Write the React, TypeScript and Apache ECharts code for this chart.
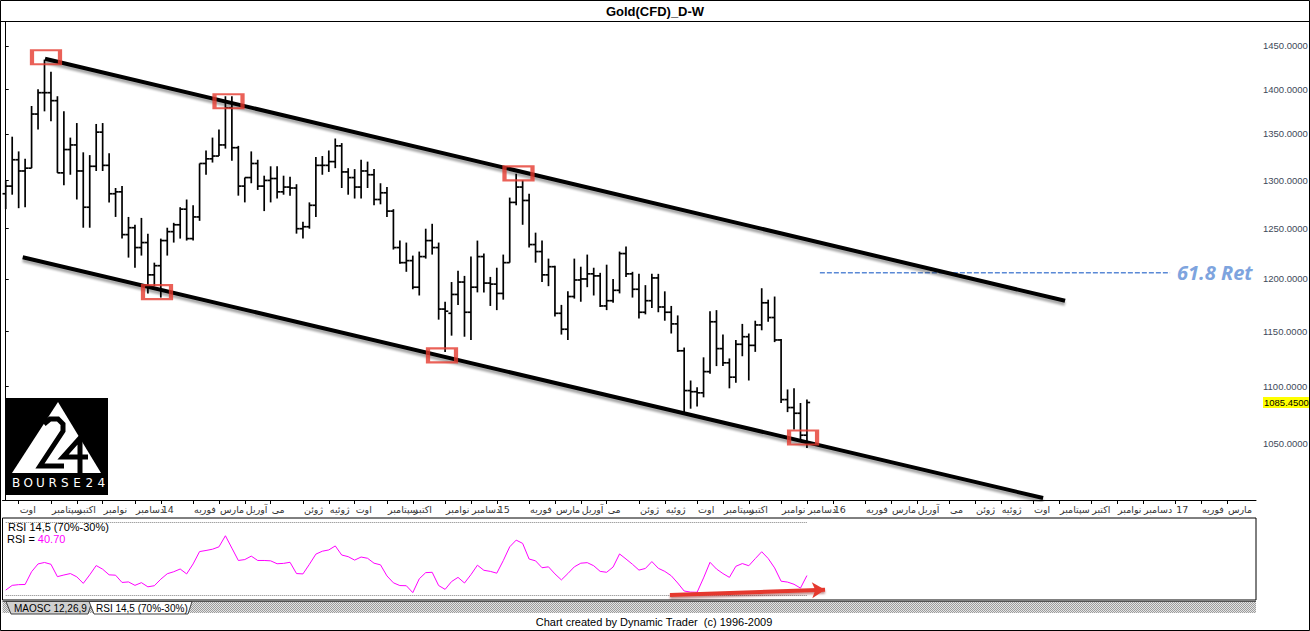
import React, { useEffect, useRef } from "react";
import * as echarts from "echarts";

// ---------- categories (weekly bars, dated by their Friday) ----------
const DAY_MS = 86400000;
const FIRST_WEEK_UTC = Date.UTC(2013, 6, 19);
const WEEK_COUNT = 194;
const weekCategories: string[] = [];
for (let k = 0; k < WEEK_COUNT; k++) {
  weekCategories.push(new Date(FIRST_WEEK_UTC + k * 7 * DAY_MS).toISOString().slice(0, 10));
}
// month names (index 0 = January, replaced by the year)
const monthLabels = ["", "فوریه", "مارس", "آوریل", "می", "ژوئن", "ژوئیه", "اوت", "سپتامبر", "اکتبر", "نوامبر", "دسامبر"];

// ---------- weekly OHLC ----------
const opens = [
  1286, 1294, 1322, 1310, 1313, 1372, 1396, 1396, 1387, 1308, 1333, 1338, 1310, 1272, 1315, 1352, 1316, 1286, 1288, 1244,
  1251, 1231, 1236, 1204, 1213, 1238, 1247, 1254, 1270, 1240, 1262, 1318, 1323, 1326, 1338, 1379, 1335, 1294, 1303, 1318,
  1294, 1300, 1302, 1288, 1293, 1292, 1250, 1252, 1274, 1316, 1316, 1320, 1337, 1309, 1303, 1293, 1310, 1306, 1280, 1287,
  1268, 1231, 1216, 1218, 1192, 1222, 1238, 1231, 1171, 1167, 1185, 1197, 1168, 1192, 1222, 1196, 1195, 1186, 1216, 1277,
  1293, 1279, 1234, 1227, 1204, 1212, 1167, 1152, 1183, 1199, 1200, 1205, 1203, 1174, 1179, 1189, 1225, 1205, 1190, 1168,
  1179, 1201, 1173, 1168, 1157, 1132, 1096, 1095, 1094, 1113, 1159, 1134, 1121, 1108, 1138, 1145, 1137, 1156, 1177, 1163,
  1142, 1088, 1081, 1076, 1057,
];
const highs = [
  1300, 1347, 1331, 1323, 1381, 1400, 1434, 1420, 1392, 1375, 1346, 1362, 1330, 1327, 1361, 1362, 1329, 1292, 1294, 1262,
  1254, 1261, 1245, 1216, 1240, 1251, 1256, 1272, 1280, 1274, 1318, 1332, 1346, 1355, 1392, 1392, 1337, 1303, 1331, 1322,
  1305, 1315, 1315, 1305, 1304, 1296, 1257, 1277, 1325, 1326, 1332, 1345, 1340, 1313, 1312, 1322, 1320, 1312, 1297, 1293,
  1270, 1238, 1236, 1223, 1227, 1250, 1255, 1236, 1178, 1197, 1208, 1203, 1222, 1238, 1225, 1202, 1211, 1224, 1282, 1307,
  1300, 1286, 1246, 1238, 1220, 1213, 1175, 1188, 1220, 1212, 1224, 1211, 1206, 1214, 1200, 1227, 1232, 1207, 1205, 1194,
  1205, 1205, 1188, 1174, 1165, 1135, 1105, 1099, 1126, 1169, 1170, 1147, 1125, 1142, 1157, 1148, 1160, 1191, 1180, 1183,
  1143, 1097, 1098, 1085, 1088,
];
const lows = [
  1270, 1285, 1271, 1272, 1313, 1355, 1375, 1364, 1308, 1295, 1306, 1280, 1251, 1251, 1310, 1310, 1277, 1262, 1240, 1221,
  1211, 1223, 1186, 1193, 1182, 1223, 1236, 1240, 1238, 1238, 1258, 1306, 1319, 1326, 1334, 1321, 1284, 1277, 1297, 1290,
  1268, 1277, 1281, 1285, 1284, 1245, 1240, 1250, 1262, 1306, 1309, 1313, 1292, 1285, 1281, 1281, 1292, 1274, 1275, 1262,
  1229, 1215, 1207, 1190, 1184, 1220, 1224, 1161, 1131, 1146, 1175, 1145, 1142, 1187, 1187, 1174, 1170, 1180, 1216, 1274,
  1254, 1231, 1216, 1197, 1193, 1164, 1147, 1142, 1181, 1178, 1192, 1184, 1173, 1170, 1177, 1186, 1202, 1182, 1162, 1166,
  1172, 1168, 1160, 1148, 1131, 1077, 1080, 1082, 1090, 1111, 1118, 1118, 1098, 1103, 1127, 1105, 1131, 1151, 1159, 1140,
  1085, 1077, 1062, 1052, 1046,
];
const closes = [
  1294, 1322, 1310, 1313, 1372, 1396, 1396, 1387, 1308, 1333, 1338, 1310, 1272, 1315, 1352, 1316, 1286, 1288, 1244, 1251,
  1231, 1236, 1204, 1213, 1238, 1247, 1254, 1270, 1240, 1262, 1318, 1323, 1326, 1338, 1379, 1335, 1294, 1303, 1318, 1294,
  1300, 1302, 1288, 1293, 1292, 1250, 1252, 1274, 1316, 1316, 1320, 1337, 1309, 1303, 1293, 1310, 1306, 1280, 1287, 1268,
  1231, 1216, 1218, 1192, 1222, 1238, 1231, 1171, 1169, 1185, 1197, 1168, 1192, 1222, 1196, 1195, 1186, 1216, 1277, 1293,
  1279, 1234, 1227, 1204, 1212, 1167, 1152, 1183, 1199, 1200, 1205, 1203, 1174, 1179, 1189, 1225, 1205, 1190, 1168, 1179,
  1201, 1173, 1168, 1157, 1132, 1096, 1095, 1094, 1113, 1159, 1134, 1121, 1108, 1138, 1145, 1137, 1156, 1177, 1163, 1142,
  1088, 1081, 1076, 1057, 1085.45,
];

// ---------- RSI 14,5 ----------
const rsiValues = [
  32.7, 35.3, 35.7, 35.8, 42.8, 47.1, 47.9, 46.9, 40.1, 41.0, 41.8, 40.0, 36.4, 41.1, 46.2, 44.2, 41.1, 40.9, 36.9, 37.2,
  35.3, 36.8, 34.5, 35.1, 38.7, 41.7, 42.8, 44.3, 41.6, 47.1, 53.9, 54.5, 55.2, 56.5, 62.6, 55.8, 49.0, 49.5, 51.4, 49.0,
  49.0, 48.8, 47.2, 47.4, 48.0, 41.8, 41.6, 46.9, 52.5, 54.1, 54.8, 57.0, 52.0, 51.1, 49.2, 50.9, 50.2, 47.5, 46.6, 40.5,
  36.7, 35.2, 35.1, 31.3, 38.9, 42.3, 42.5, 35.2, 33.1, 37.4, 39.7, 36.6, 41.2, 46.4, 43.6, 43.0, 42.0, 48.9, 56.5, 60.2,
  58.4, 49.8, 48.8, 45.0, 45.5, 41.6, 38.3, 41.8, 45.5, 47.5, 47.8, 46.1, 43.0, 42.5, 45.4, 52.6, 49.8, 46.9, 43.7, 44.6,
  48.4, 44.7, 43.0, 40.6, 36.6, 32.2, 31.6, 31.5, 39.4, 48.0, 44.3, 41.8, 39.7, 45.8, 47.3, 46.1, 50.0, 53.8, 50.1, 44.9,
  37.6, 37.1, 35.9, 33.8, 40.7,
];
const rsiLevels = [70, 30];
const rsiLast = "40.70";

// ---------- price axis ----------
const priceTicks = [1050, 1100, 1150, 1200, 1250, 1300, 1350, 1400, 1450];
const lastPrice = 1085.45;

// ---------- annotations (week index, price) ----------
const upperChannel = [[6.08, 1435.1], [163.95, 1178.9]];
const lowerChannel = [[2.63, 1221.3], [160.55, 1004.4]];
const pivotBoxes = [[6.23, 1436.8], [34.48, 1386.3], [23.41, 1187.2], [67.52, 1127.8], [79.36, 1307.5], [123.4, 1055.0]];
const retFrom = 126.0;
const retTo = 180.2;
const retLevel = 1206.1;
const retText = "61.8 Ret";
const rsiArrow = [[102.8, 30.0], [126.8, 32.9]];

const monthOf = (s: string) => Number(s.slice(5, 7));
const isMonthStart = (idx: number) =>
  idx > 0 && monthOf(weekCategories[idx]) !== monthOf(weekCategories[idx - 1]);
const monthLabel = (v: string) => {
  const m = monthOf(v);
  return m === 1 ? v.slice(2, 4) : monthLabels[m - 1];
};

function hatchURL(): string {
  const c = document.createElement("canvas");
  c.width = 2;
  c.height = 2;
  const g = c.getContext("2d")!;
  g.fillStyle = "#e4e4e4";
  g.fillRect(0, 0, 2, 2);
  g.fillStyle = "#9c9c9c";
  g.fillRect(0, 0, 1, 1);
  g.fillRect(1, 1, 1, 1);
  return c.toDataURL();
}

const GL = 2.5;
const GW = 1253.5;

export default function App() {
  const ref = useRef<HTMLDivElement>(null);
  useEffect(() => {
    if (!ref.current) return;
    const chart = echarts.init(ref.current, undefined, { renderer: "svg" });
    const ohlc = opens.map((o, k) => [k, o, highs[k], lows[k], closes[k]]);
    const sans = "'Liberation Sans', Arial, sans-serif";
    const hatch = hatchURL();

    const option: any = {
      animation: false,
      backgroundColor: "#ffffff",
      grid: [
        { left: GL, top: 22, width: GW, height: 478, outerBoundsMode: "none", containLabel: false },
        { left: GL, top: 518, width: GW, height: 82, outerBoundsMode: "none", containLabel: false },
      ],
      xAxis: [
        {
          type: "category",
          gridIndex: 0,
          data: weekCategories,
          boundaryGap: true,
          axisLine: { show: true, lineStyle: { color: "#000", width: 1 } },
          axisTick: { show: true, alignWithLabel: true, interval: isMonthStart, length: 4, lineStyle: { color: "#000" } },
          axisLabel: {
            interval: isMonthStart,
            formatter: monthLabel,
            align: "left",
            margin: 4,
            padding: [0, 0, 0, 1],
            fontSize: 9.5,
            color: "#333",
            fontFamily: "'DejaVu Sans', sans-serif",
            hideOverlap: false,
          },
          splitLine: { show: false },
        },
        { type: "value", gridIndex: 0, position: "top", min: -0.5, max: WEEK_COUNT - 0.5, show: false },
        { type: "category", gridIndex: 1, data: weekCategories, boundaryGap: true, show: false },
        { type: "value", gridIndex: 1, min: -0.5, max: WEEK_COUNT - 0.5, show: false },
      ],
      yAxis: [
        {
          type: "log",
          logBase: 10,
          gridIndex: 0,
          position: "right",
          offset: 6,
          min: 1002.8,
          max: 1478.5,
          axisLine: { show: true, lineStyle: { color: "#000", width: 1 } },
          axisTick: { show: true, length: 3, customValues: priceTicks, lineStyle: { color: "#000" } },
          axisLabel: {
            customValues: [...priceTicks, lastPrice],
            margin: 1,
            fontSize: 9.5,
            color: "#414a5a",
            fontFamily: sans,
            formatter: (v: number) =>
              Math.abs(v - lastPrice) < 0.01 ? `{hl|${lastPrice.toFixed(4)}}` : Number(v).toFixed(4),
            rich: {
              hl: { backgroundColor: "#ffff00", color: "#000", padding: [1, 0, 0, 1], fontSize: 9.5, fontFamily: sans },
            },
          },
          splitLine: { show: false },
        },
        { type: "value", gridIndex: 1, min: 27.25, max: 72.37, show: false },
      ],
      series: [
        {
          type: "custom",
          name: "Gold",
          xAxisIndex: 0,
          yAxisIndex: 0,
          data: ohlc,
          encode: { x: 0, y: [1, 2, 3, 4] },
          z: 3,
          renderItem: (params: any, api: any) => {
            const i = api.value(0);
            const o = api.coord([i, api.value(1)]);
            const h = api.coord([i, api.value(2)]);
            const l = api.coord([i, api.value(3)]);
            const c = api.coord([i, api.value(4)]);
            const x = h[0];
            const st = { stroke: "#000", lineWidth: 1.7 };
            return {
              type: "group",
              children: [
                { type: "line", shape: { x1: x, y1: h[1], x2: x, y2: l[1] }, style: st },
                { type: "line", shape: { x1: x - 3.2, y1: o[1], x2: x, y2: o[1] }, style: st },
                { type: "line", shape: { x1: x, y1: c[1], x2: x + 3.2, y2: c[1] }, style: st },
              ],
            };
          },
        },
        {
          type: "line",
          xAxisIndex: 1,
          yAxisIndex: 0,
          data: upperChannel,
          symbol: "none",
          z: 5,
          lineStyle: { color: "#000", width: 4, shadowColor: "rgba(0,0,0,0.35)", shadowBlur: 2, shadowOffsetY: 3 },
        },
        {
          type: "line",
          xAxisIndex: 1,
          yAxisIndex: 0,
          data: lowerChannel,
          symbol: "none",
          z: 5,
          lineStyle: { color: "#000", width: 4, shadowColor: "rgba(0,0,0,0.35)", shadowBlur: 2, shadowOffsetY: 3 },
        },
        {
          type: "scatter",
          xAxisIndex: 1,
          yAxisIndex: 0,
          data: pivotBoxes,
          symbol: "rect",
          symbolSize: [28, 14],
          z: 6,
          itemStyle: { color: "rgba(0,0,0,0)", borderColor: "#e5392e", borderWidth: 3 },
        },
        {
          type: "line",
          xAxisIndex: 1,
          yAxisIndex: 0,
          data: [[retFrom, retLevel], [retTo, retLevel]],
          symbol: "none",
          z: 4,
          lineStyle: { color: "#5a89d6", width: 1.6, type: [5, 2] },
          endLabel: {
            show: true,
            formatter: retText,
            distance: 7,
            color: "#7ea4de",
            fontSize: 20,
            fontWeight: "bold",
            fontStyle: "italic",
            fontFamily: "'Open Sans', sans-serif",
          },
        },
        {
          type: "line",
          xAxisIndex: 2,
          yAxisIndex: 1,
          data: rsiValues,
          symbol: "none",
          z: 4,
          lineStyle: { color: "#ff00ff", width: 1 },
          markLine: {
            silent: true,
            symbol: "none",
            label: { show: false },
            lineStyle: { color: "#808080", type: "dotted", width: 1 },
            data: rsiLevels.map((lv) => [{ coord: [0, lv] }, { coord: [rsiValues.length - 1, lv] }]),
          },
        },
        {
          type: "line",
          xAxisIndex: 3,
          yAxisIndex: 1,
          data: rsiArrow,
          symbol: "none",
          z: 6,
          lineStyle: { opacity: 0 },
          markLine: {
            silent: true,
            symbol: ["none", "arrow"],
            symbolSize: [12, 13],
            label: { show: false },
            itemStyle: { color: "#e5392e" },
            lineStyle: {
              color: "#e5392e",
              width: 4,
              type: "solid",
              shadowColor: "rgba(120,0,0,0.45)",
              shadowBlur: 2,
              shadowOffsetY: 2,
            },
            data: [[{ coord: rsiArrow[0] }, { coord: rsiArrow[1] }]],
          },
        },
      ],
      graphic: [
        // title bar
        {
          type: "text",
          x: 655,
          y: 11,
          z: 20,
          style: {
            text: "Gold(CFD)_D-W",
            fill: "#000",
            font: `bold 13px ${sans}`,
            textAlign: "center",
            textVerticalAlign: "middle",
          },
        },
        { type: "line", z: 20, shape: { x1: 0, y1: 21.5, x2: 1310, y2: 21.5 }, style: { stroke: "#000", lineWidth: 1 } },
        // RSI panel frame
        {
          type: "rect",
          z: 20,
          shape: { x: GL, y: 518, width: GW, height: 82 },
          style: { fill: "none", stroke: "#000", lineWidth: 1 },
        },
        {
          type: "text",
          x: 8,
          y: 527,
          z: 20,
          style: { text: "RSI 14,5 (70%-30%)", fill: "#000", font: `11px ${sans}`, textVerticalAlign: "middle" },
        },
        {
          type: "text",
          x: 7,
          y: 539,
          z: 20,
          style: {
            text: `RSI = {m|${rsiLast}}`,
            fill: "#000",
            font: `11px ${sans}`,
            textVerticalAlign: "middle",
            rich: { m: { fill: "#ff00ff", font: `11px ${sans}` } },
          },
        },
        // hatched tab strip
        {
          type: "rect",
          z: 19,
          shape: { x: GL, y: 601, width: GW, height: 12 },
          style: { fill: { image: hatch, repeat: "repeat", imageWidth: 2, imageHeight: 2 } as any, stroke: "none" },
        },
        { type: "line", z: 20, shape: { x1: GL, y1: 601.5, x2: GL + GW, y2: 601.5 }, style: { stroke: "#555", lineWidth: 1 } },
        {
          type: "polygon",
          z: 21,
          shape: { points: [[6, 601.5], [92, 601.5], [88, 614], [11, 614]] },
          style: { fill: "#d0d0d0", stroke: "#404040", lineWidth: 1 },
        },
        {
          type: "text",
          x: 14,
          y: 608,
          z: 22,
          style: { text: "MAOSC 12,26,9", fill: "#000", font: `10px ${sans}`, textVerticalAlign: "middle" },
        },
        {
          type: "polygon",
          z: 23,
          shape: { points: [[89, 601.5], [192, 601.5], [188, 614], [94, 614]] },
          style: { fill: "#ffffff", stroke: "#404040", lineWidth: 1 },
        },
        {
          type: "text",
          x: 96,
          y: 608,
          z: 24,
          style: { text: "RSI 14,5 (70%-30%)", fill: "#000", font: `10px ${sans}`, textVerticalAlign: "middle" },
        },
        // footer
        {
          type: "text",
          x: 654,
          y: 622,
          z: 20,
          style: {
            text: "Chart created by Dynamic Trader  (c) 1996-2009",
            fill: "#000",
            font: `11px ${sans}`,
            textAlign: "center",
            textVerticalAlign: "middle",
          },
        },
        // outer frame
        {
          type: "rect",
          z: 30,
          shape: { x: 0.5, y: 0.5, width: 1309, height: 630 },
          style: { fill: "none", stroke: "#000", lineWidth: 1 },
        },
        // BOURSE24 logo
        {
          type: "group",
          z: 25,
          children: [
            { type: "rect", shape: { x: 6, y: 398, width: 102, height: 97 }, style: { fill: "#000" } },
            {
              type: "polygon",
              shape: { points: [[58, 402], [12, 473], [101, 473]] },
              style: { fill: "#fff" },
            },
            {
              type: "polyline",
              shape: { points: [[44, 424], [50, 419], [58, 419], [63, 424], [63, 431], [40, 466], [64, 466]] },
              style: { stroke: "#000", lineWidth: 5, fill: "none" },
            },
            {
              type: "polyline",
              shape: { points: [[80, 473], [80, 438], [63, 457], [88, 457]] },
              style: { stroke: "#000", lineWidth: 5, fill: "none" },
            },
            ...["B", "O", "U", "R", "S", "E", "2", "4"].map((ch, k) => ({
              type: "text",
              x: 16 + k * 12.2,
              y: 483,
              style: {
                text: ch,
                fill: "#fff",
                font: `12px 'DejaVu Sans', sans-serif`,
                textAlign: "center",
                textVerticalAlign: "middle",
              },
            })),
          ],
        },
      ],
    };
    chart.setOption(option);
    return () => chart.dispose();
  }, []);

  return (
    <div
      ref={ref}
      style={{ position: "fixed", left: 0, top: 0, width: 1310, height: 631, background: "#fff" }}
    />
  );
}
